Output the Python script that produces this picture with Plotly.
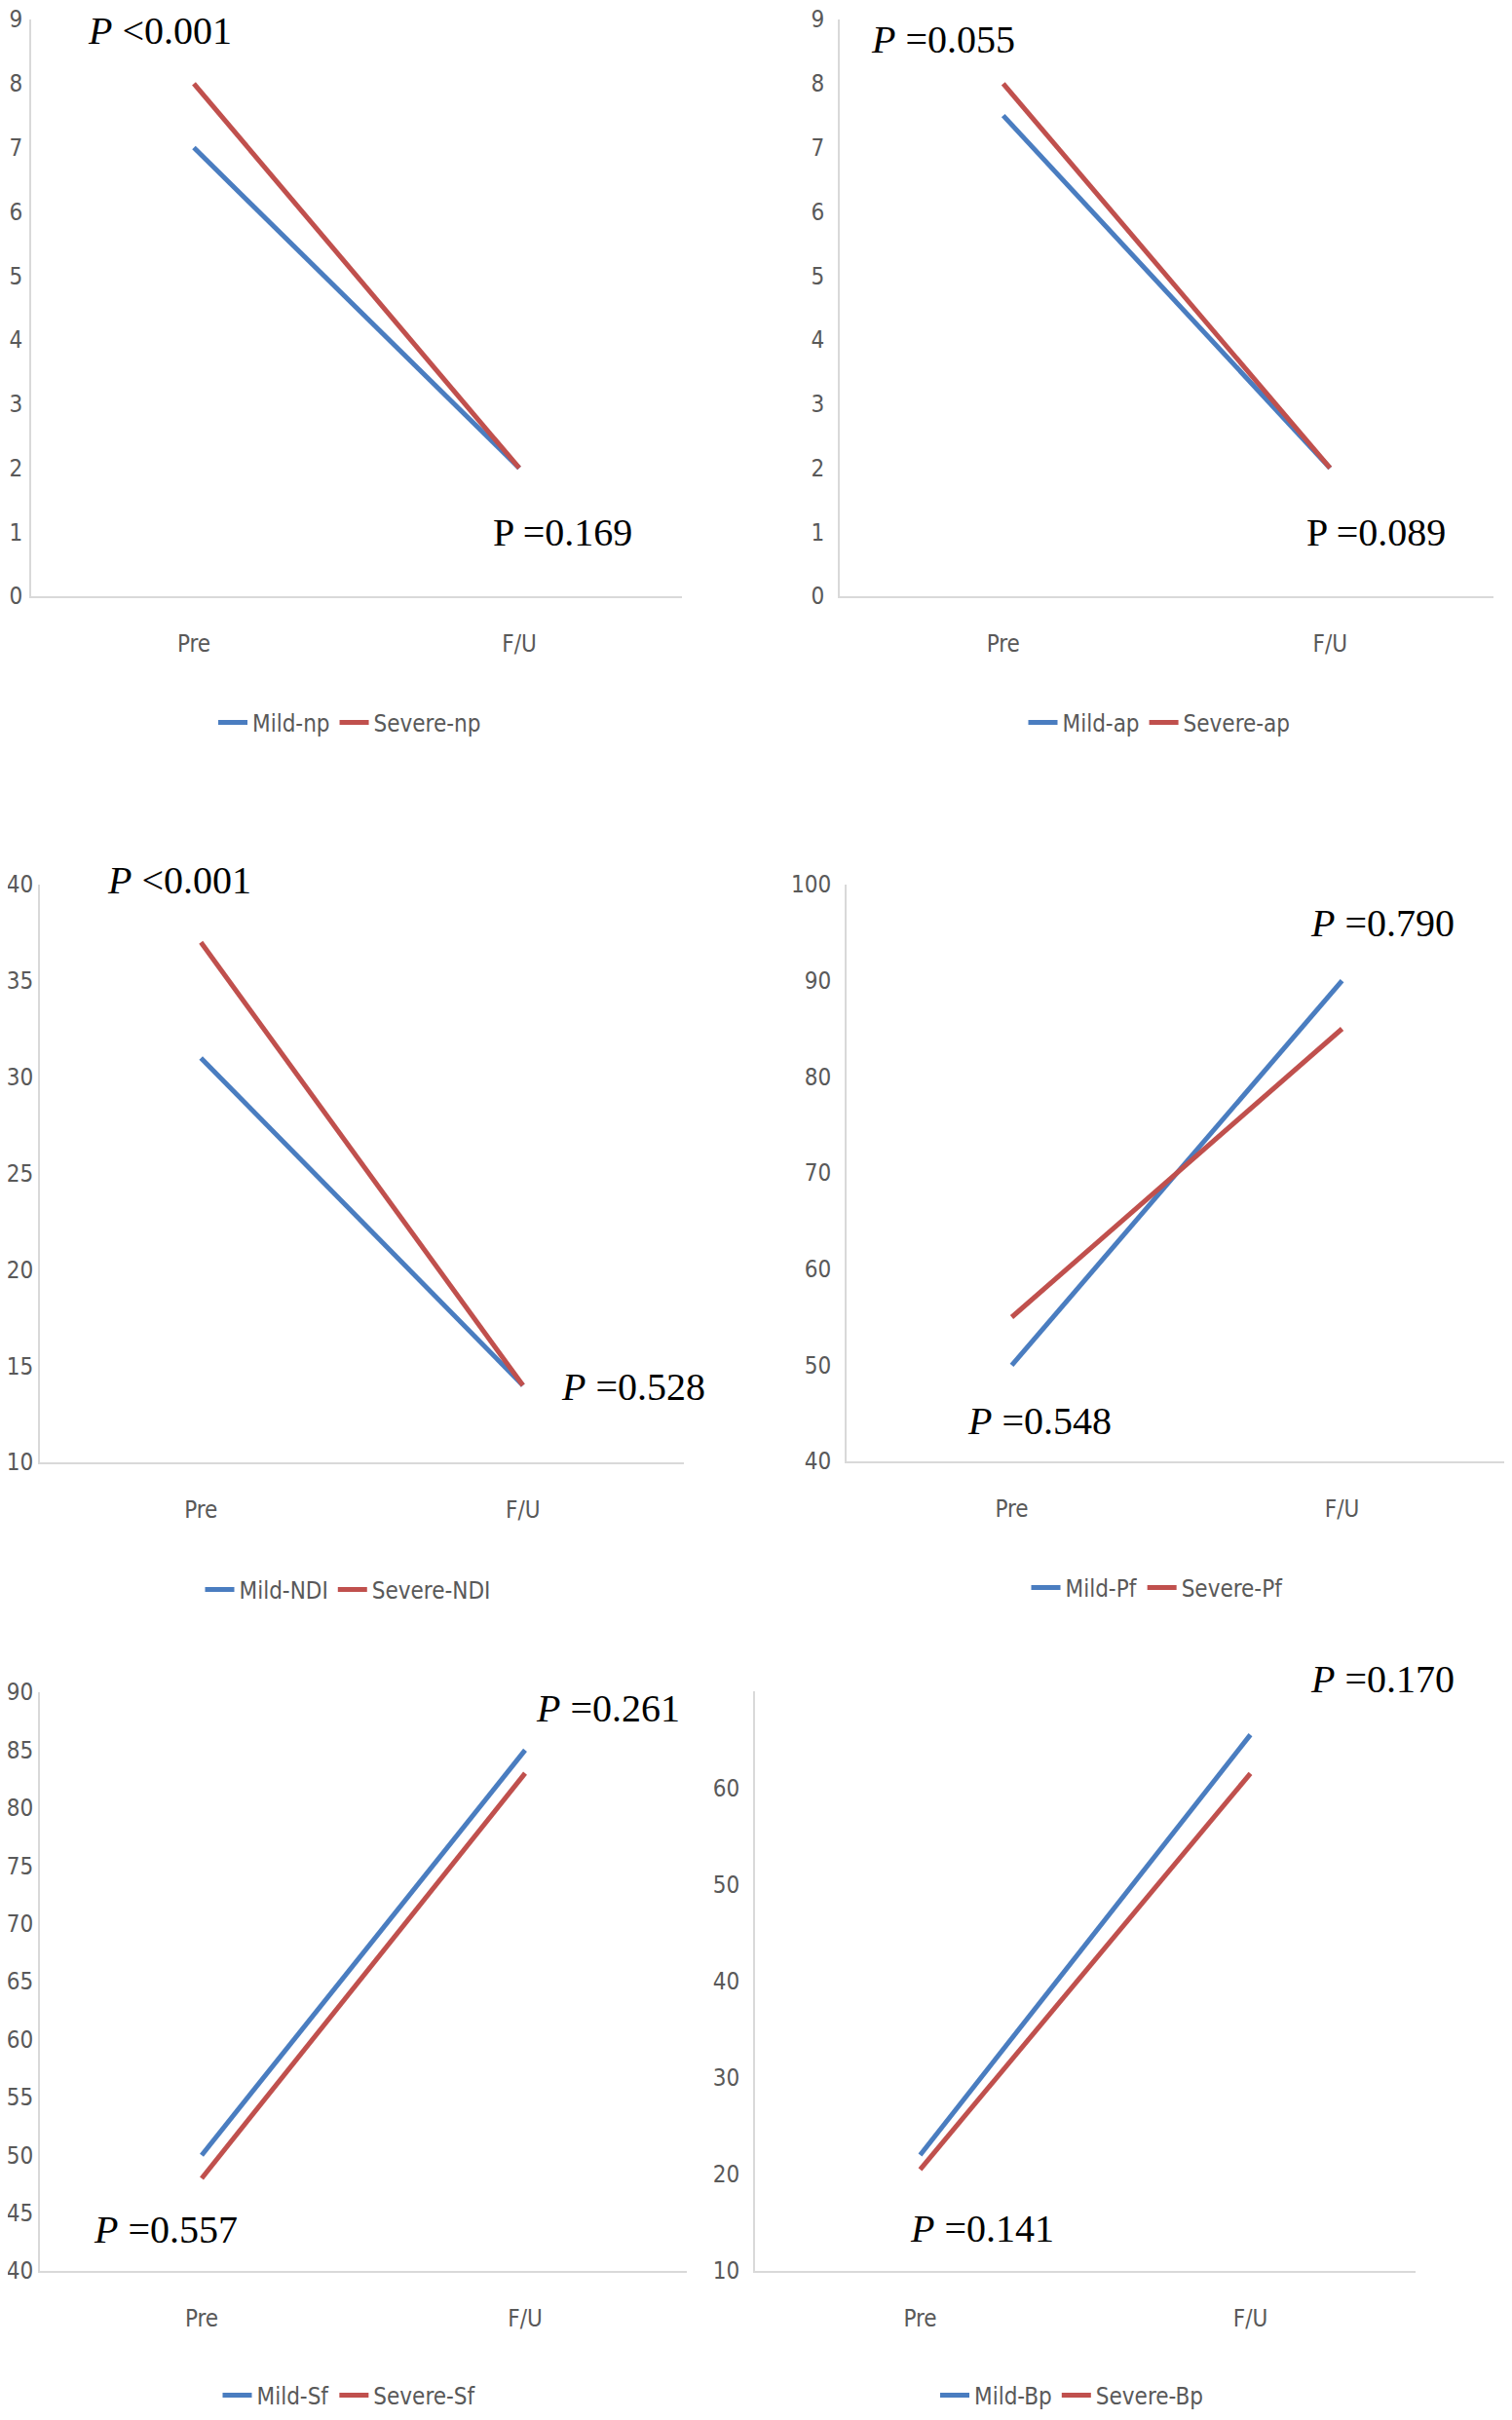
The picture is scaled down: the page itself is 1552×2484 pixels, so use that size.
import plotly.graph_objects as go

# page is 1552x2484; the html body adds an 8px margin, so the figure is drawn 16px smaller
PAGE_W, PAGE_H, OFF = 1552, 2484, 8
W, H = PAGE_W - 2 * OFF, PAGE_H - 2 * OFF

categories = ["Pre", "F/U"]

mild_np = [7, 2]
severe_np = [8, 2]
mild_ap = [7.5, 2]
severe_ap = [8, 2]
mild_ndi = [31, 14]
severe_ndi = [37, 14]
mild_pf = [50, 90]
severe_pf = [55, 85]
mild_sf = [50, 85]
severe_sf = [48, 83]
mild_bp = [22, 65.5]
severe_bp = [20.5, 61.5]

series_names = [("Mild-np", "Severe-np"), ("Mild-ap", "Severe-ap"),
                ("Mild-NDI", "Severe-NDI"), ("Mild-Pf", "Severe-Pf"),
                ("Mild-Sf", "Severe-Sf"), ("Mild-Bp", "Severe-Bp")]
series_values = [(mild_np, severe_np), (mild_ap, severe_ap),
                 (mild_ndi, severe_ndi), (mild_pf, severe_pf),
                 (mild_sf, severe_sf), (mild_bp, severe_bp)]

y_ticks = [list(range(0, 10)), list(range(0, 10)),
           list(range(10, 41, 5)), list(range(40, 101, 10)),
           list(range(40, 91, 5)), list(range(10, 61, 10))]
y_ranges = [[0, 9], [0, 9], [10, 40], [40, 100], [40, 90], [10, 70]]

p_texts = [
    ("<i>P</i> &lt;0.001", "P =0.169"),
    ("<i>P</i> =0.055", "P =0.089"),
    ("<i>P</i> &lt;0.001", "<i>P</i> =0.528"),
    ("<i>P</i> =0.790", "<i>P</i> =0.548"),
    ("<i>P</i> =0.261", "<i>P</i> =0.557"),
    ("<i>P</i> =0.170", "<i>P</i> =0.141"),
]

# layout geometry in page pixels: (x_left, x_right, y_top, y_bottom, x_range_max)
panels_px = [
    (32, 700, 20, 612, 1.5),
    (862, 1533, 20, 612, 1.5),
    (41, 702, 908, 1501, 1.5),
    (869, 1544, 908, 1500, 1.491),
    (41, 705, 1737, 2331, 1.5),
    (775, 1453, 1736, 2331, 1.5),
]
y_standoff = [2, 9, 0, 9, 0, 9]
legend_px = [(359, 742), (1190, 742), (357, 1632), (1188, 1630), (359, 2459), (1100, 2459)]
ann_px = [
    [(89, 31), (505, 547)],
    [(893, 41), (1340, 547)],
    [(109, 903), (575, 1424)],
    [(1344, 947), (992, 1458)],
    [(549, 1753), (95, 2288)],
    [(1344, 1723), (933, 2287)],
]


def fx(x):
    return (x - OFF) / W


def fy(y):
    return 1 - (y - OFF) / H


BLUE = "#4a7dc0"
RED = "#c0504d"
TICK_FONT = dict(family="Liberation Sans Narrow, DejaVu Sans Condensed, sans-serif",
                 size=24, color="#595959")
P_FONT = dict(family="Liberation Serif, Times New Roman, serif", size=40, color="#000000")

fig = go.Figure()
layout = dict(template="none", width=W, height=H,
              margin=dict(l=0, r=0, t=0, b=0, autoexpand=False),
              paper_bgcolor="white", plot_bgcolor="white", showlegend=True)
annotations = []

for i in range(6):
    n = "" if i == 0 else str(i + 1)
    xl, xr, yt, yb, xmax = panels_px[i]
    lg = "legend" + n
    for name, vals, col in zip(series_names[i], series_values[i], (BLUE, RED)):
        fig.add_trace(go.Scatter(x=categories, y=vals, mode="lines", name=name,
                                 line=dict(color=col, width=5),
                                 xaxis="x" + n, yaxis="y" + n, legend=lg,
                                 hoverinfo="skip"))
    layout["xaxis" + n] = dict(domain=[fx(xl), fx(xr)], anchor="y" + n,
                               type="category", range=[-0.5, xmax], automargin=False,
                               showline=True, linecolor="#d9d9d9", linewidth=2,
                               showgrid=False, zeroline=False, ticks="",
                               ticklabeloverflow="allow",
                               tickfont=TICK_FONT, ticklabelstandoff=26)
    layout["yaxis" + n] = dict(domain=[fy(yb), fy(yt)], anchor="x" + n,
                               range=y_ranges[i], tickvals=y_ticks[i], automargin=False,
                               showline=True, linecolor="#d9d9d9", linewidth=2,
                               showgrid=False, zeroline=False, ticks="",
                               ticklabeloverflow="allow",
                               tickfont=TICK_FONT, ticklabelstandoff=y_standoff[i])
    lx, ly = legend_px[i]
    layout[lg] = dict(x=fx(lx), y=fy(ly), xanchor="center", yanchor="middle",
                      orientation="h", font=TICK_FONT, bgcolor="rgba(0,0,0,0)",
                      itemwidth=30, tracegroupgap=0)
    for (ax, ay), txt in zip(ann_px[i], p_texts[i]):
        annotations.append(dict(x=fx(ax), y=fy(ay), xref="paper", yref="paper",
                                xanchor="left", yanchor="middle", text=txt,
                                showarrow=False, font=P_FONT, borderpad=0))

layout["annotations"] = annotations
fig.update_layout(**layout)
fig.write_html("out.html")
